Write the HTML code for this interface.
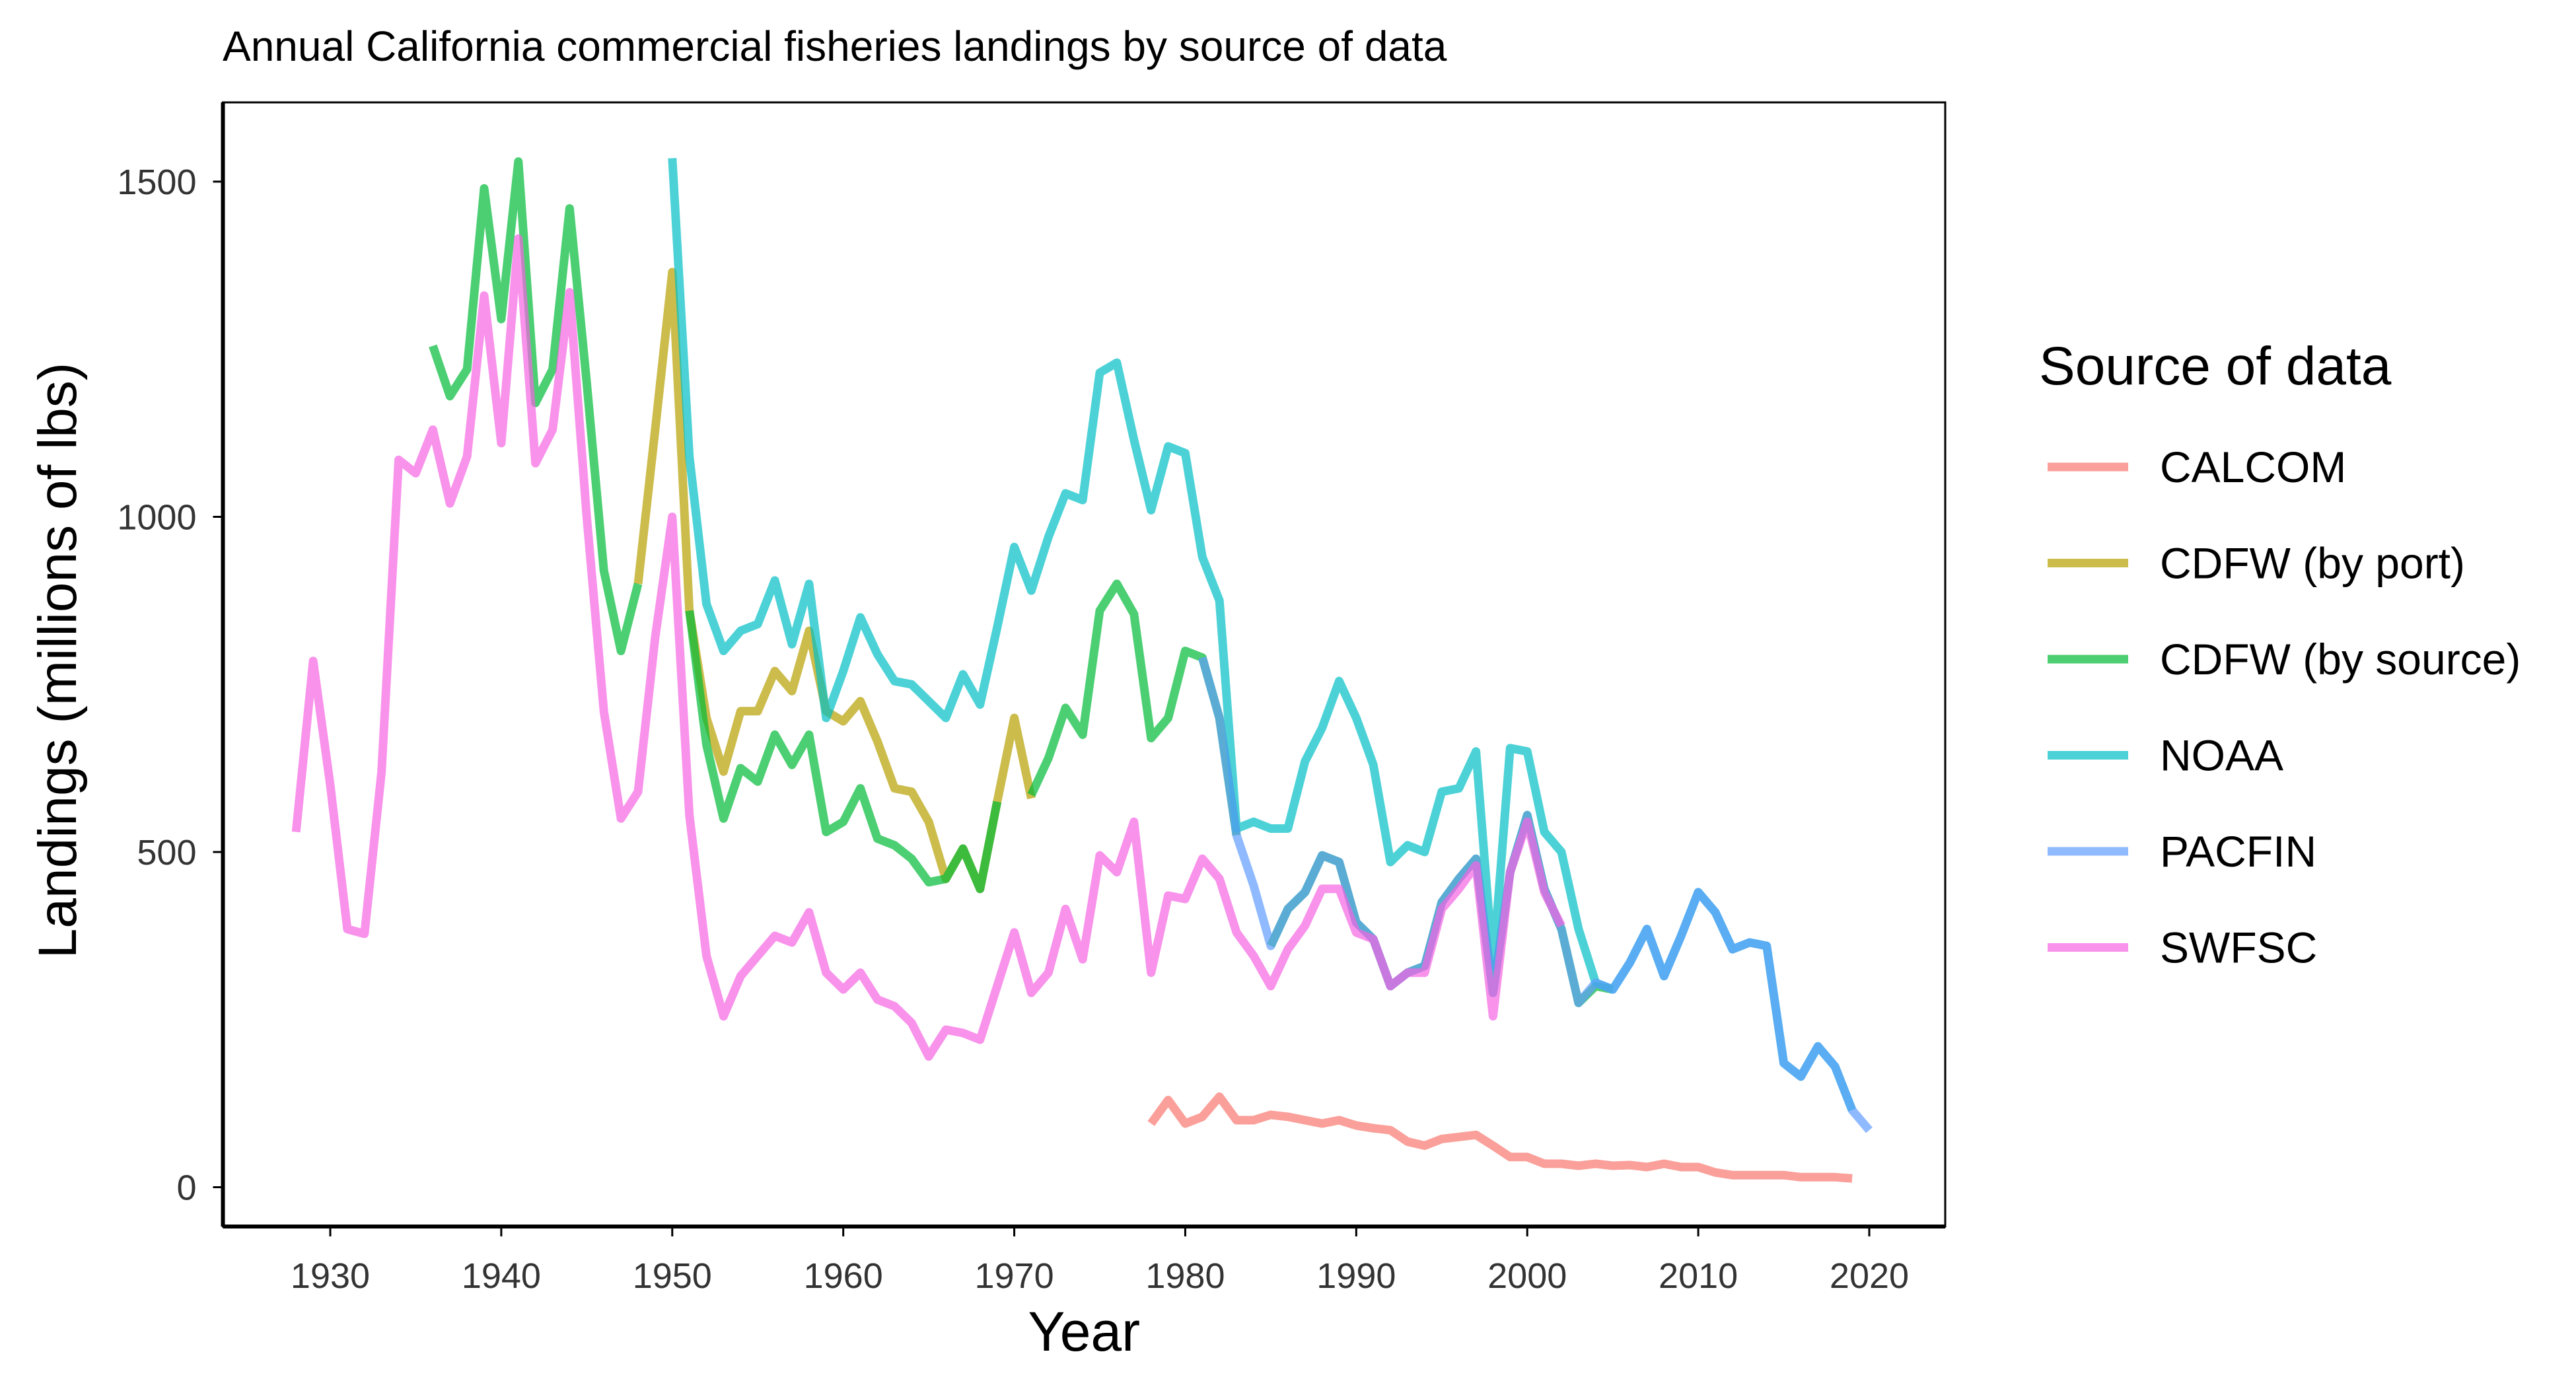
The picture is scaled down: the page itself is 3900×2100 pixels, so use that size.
<!DOCTYPE html>
<html><head><meta charset="utf-8">
<style>
html,body{margin:0;padding:0;background:#fff;}
svg{display:block;font-family:"Liberation Sans",Arial,sans-serif;}
</style></head>
<body>
<svg id="chart" width="3900" height="2100" viewBox="0 0 3900 2100">
<rect width="3900" height="2100" fill="#fff"/>
<text x="337" y="92" font-size="64" fill="#000">Annual California commercial fisheries landings by source of data</text>
<g id="axes"></g>
<g id="series"></g>
<g id="legend"></g>
</svg>
<script>
const xTicks = [1930,1940,1950,1960,1970,1980,1990,2000,2010,2020];
const yTicks = [0,500,1000,1500];
const seriesNames = ["CALCOM","CDFW (by port)","CDFW (by source)","NOAA","PACFIN","SWFSC"];
const seriesColors = ["#F8766D","#B79F00","#00BA38","#00BFC4","#619CFF","#F564E3"];
const calcomStart = 1978;
const calcomValues = [95,130,95,105,135,100,100,108,105,100,95,100,92,88,85,68,62,72,75,78,62,45,45,35,35,32,35,32,33,30,35,30,30,22,18,18,18,18,15,15,15,13];
const portStart = 1948;
const portValues = [900,1130,1365,860,700,620,710,710,770,740,830,710,695,725,665,595,590,545,460,505,445,575,700,580];
const sourceStart = 1936;
const sourceValues = [1255,1180,1220,1490,1295,1530,1170,1220,1460,1200,920,800,900,null,null,860,660,550,625,605,675,630,675,530,545,595,520,510,490,455,460,505,445,575,null,585,640,715,675,860,900,855,670,700,800,790,700,525,null,360,415,440,495,485,395,370,300,320,330,425,460,490,290,470,555,445,385,275,300,295];
const noaaStart = 1950;
const noaaValues = [1535,1090,870,800,830,840,905,810,900,700,770,850,795,755,750,725,700,765,720,835,955,890,970,1035,1025,1215,1230,1115,1010,1105,1095,940,875,535,545,535,535,635,685,755,700,630,485,510,500,590,595,650,330,655,650,530,500,385,305,295,335,385,315,375,440,410,355,365,360,185,165,210,180,115];
const pacfinStart = 1981;
const pacfinValues = [790,700,525,450,360,415,440,495,485,395,370,300,320,330,425,460,490,290,470,555,445,385,275,305,295,335,385,315,375,440,410,355,365,360,185,165,210,180,115,85];
const swfscStart = 1928;
const swfscValues = [530,785,600,385,378,620,1085,1065,1130,1020,1090,1330,1110,1415,1080,1130,1335,1000,710,550,590,820,1000,555,345,255,315,345,375,365,410,320,295,320,280,270,245,195,235,230,220,300,380,290,320,415,340,495,470,545,320,435,430,490,460,380,345,300,355,390,445,445,380,370,300,320,320,415,445,480,255,470,545,440,390];

const PL=337.5, PR=2945, PT=155, PB=1857;
function xs(yr){ return 500 + (yr-1930)*(2330/90); }
function ys(v){ return 1797.5 - v*(1522.5/1500); }
const NS="http://www.w3.org/2000/svg";
function mk(tag, attrs, parent){ const e=document.createElementNS(NS,tag); for(const k in attrs) e.setAttribute(k,attrs[k]); parent.appendChild(e); return e; }

const axes=document.getElementById('axes');
const panel = mk('rect',{x:PL,y:PT,width:PR-PL,height:PB-PT,fill:'none',stroke:'#000','stroke-width':3},axes);


const xl = mk('line',{x1:PL,y1:PB,x2:PR,y2:PB,stroke:'#000','stroke-width':6},axes);


const yl = mk('line',{x1:PL,y1:PT,x2:PL,y2:PB,stroke:'#000','stroke-width':6},axes);


xTicks.forEach(t=>{
  const tk=mk('line',{x1:xs(t),y1:PB,x2:xs(t),y2:PB+15,stroke:'#000','stroke-width':3},axes);
  
  
  const lb=mk('text',{x:xs(t),y:1950,'font-size':54,'text-anchor':'middle',fill:'#333'},axes);
  lb.textContent=t;
  
  
});
yTicks.forEach(t=>{
  const tk=mk('line',{x1:PL-15,y1:ys(t),x2:PL,y2:ys(t),stroke:'#000','stroke-width':3},axes);
  
  
  const lb=mk('text',{x:PL-40,y:ys(t)+19,'font-size':54,'text-anchor':'end',fill:'#333'},axes);
  lb.textContent=t;
  
  
});
const xt=mk('text',{x:(PL+PR)/2,y:2045,'font-size':84,'text-anchor':'middle',fill:'#000'},axes);
xt.textContent='Year';


const yt=mk('text',{x:0,y:0,'font-size':82,'text-anchor':'middle',fill:'#000',transform:'translate(115,1000) rotate(-90)'},axes);
yt.textContent='Landings (millions of lbs)';



const seriesG=document.getElementById('series');
const allSeries=[[calcomStart,calcomValues],[portStart,portValues],[sourceStart,sourceValues],[noaaStart,noaaValues],[pacfinStart,pacfinValues],[swfscStart,swfscValues]];
const seriesIds=['calcom','cdfw-port','cdfw-source','noaa','pacfin','swfsc'];
allSeries.forEach((s,i)=>{
  let d='', pen=false;
  s[1].forEach((v,j)=>{
    if(v===null){pen=false;return;}
    d += (pen?'L':'M')+xs(s[0]+j).toFixed(1)+','+ys(v).toFixed(1);
    pen=true;
  });
  const p=mk('path',{d:d,fill:'none',stroke:seriesColors[i],'stroke-width':13,'stroke-opacity':0.7,'stroke-linejoin':'round'},seriesG);
  
  
});

const lg=document.getElementById('legend');
const lt=mk('text',{x:3087,y:582,'font-size':82,fill:'#000'},lg);
lt.textContent='Source of data';


seriesNames.forEach((n,i)=>{
  const y=707+i*145.5;
  const ln=mk('line',{x1:3100,y1:y,x2:3222,y2:y,stroke:seriesColors[i],'stroke-width':13,'stroke-opacity':0.7},lg);
  
  
  const tx=mk('text',{x:3270,y:y+23,'font-size':66,fill:'#000'},lg);
  tx.textContent=n;
  
  
});
</script>
</body></html>
